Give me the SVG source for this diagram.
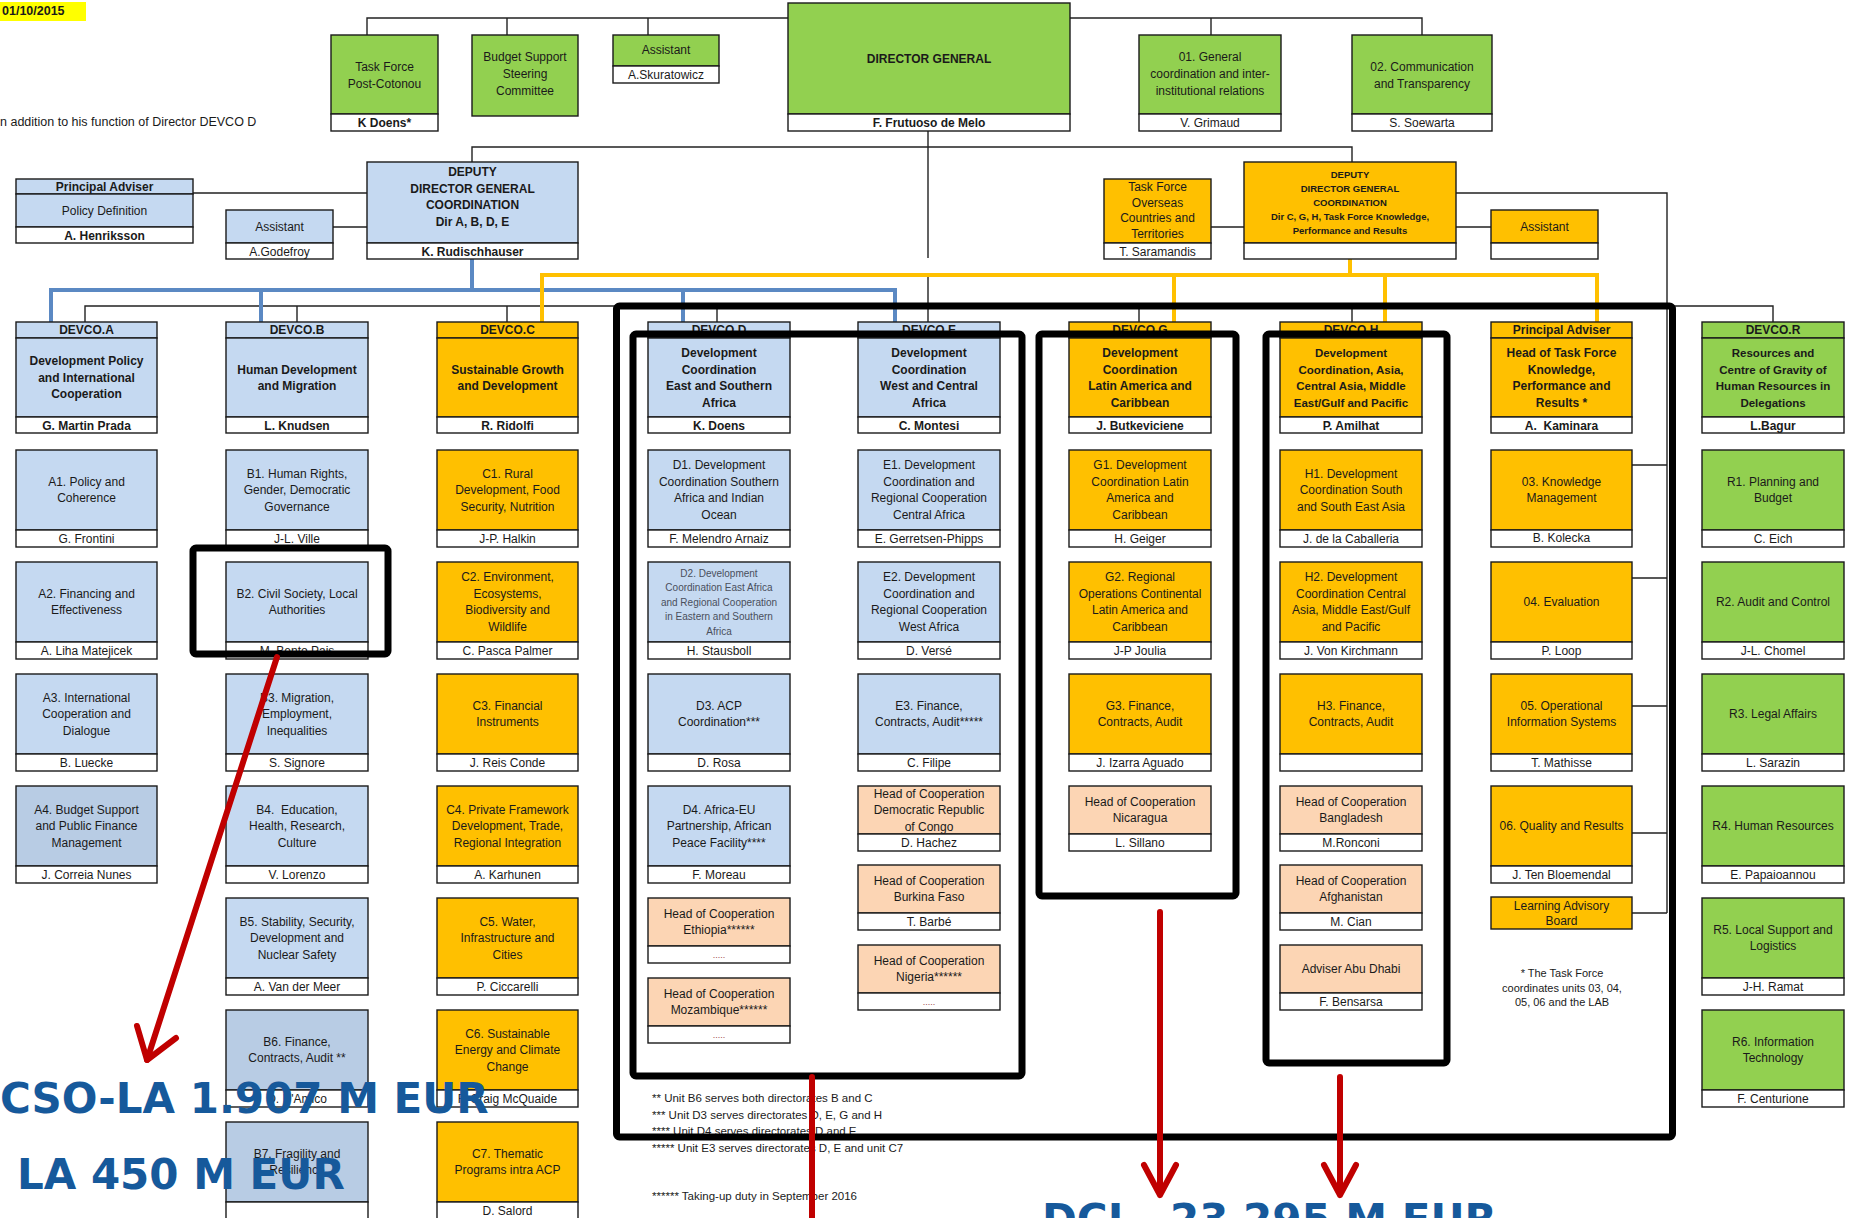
<svg xmlns="http://www.w3.org/2000/svg" width="1855" height="1218" viewBox="0 0 1855 1218">
<style>
.t{font-family:"Liberation Sans",Arial,sans-serif;font-size:12px;text-anchor:middle;fill:#1a1a1a}
.b{font-weight:bold}
.s{font-size:10px;fill:#4a4f5c}
.k{font-size:9.5px;font-weight:bold}
.d{font-size:9px;fill:#a04848}
.fn{font-family:"Liberation Sans",Arial,sans-serif;font-size:11.5px;fill:#1a1a1a}
.bx{stroke:#1a1a1a;stroke-width:1.4}
.bl1{fill:#c5d9f1}.bl2{fill:#b8cce4}.gr{fill:#92d050}.or{fill:#ffc000}.lo{fill:#fcd5b4}.wh{fill:#fff}
.ln{stroke:#222;stroke-width:1.4;fill:none}
.cb{stroke:#5b89c3;stroke-width:4;fill:none}
.cy{stroke:#ffc000;stroke-width:4;fill:none}
.fr{stroke:#000;stroke-width:7;fill:none;stroke-linejoin:round}
.rd{stroke:#c00000;stroke-width:6;fill:none;stroke-linecap:round;stroke-linejoin:round}
.big{font-family:"DejaVu Sans",Verdana,sans-serif;font-weight:bold;font-size:42px;fill:#16599b}
</style>
<rect width="1855" height="1218" fill="#fff"/>
<g id="header">
<rect x="0" y="2" width="86" height="19" fill="#ffff00"/>
<text class="fn b" x="2" y="15" style="font-size:12.5px">01/10/2015</text>
<text class="fn" x="0" y="126" style="font-size:12.5px">n addition to his function of Director DEVCO D</text>
</g>
<g id="connectors">
<path class="ln" d="M367,35V18H1422V35M507,18V35M648,18V35M1211,18V35"/>
<path class="ln" d="M928,131V258M928,277V306"/>
<path class="ln" d="M472,162V147H1352V162"/>
<path class="ln" d="M193,193H367M333,227H367M1211,227H1244M1456,227H1491"/>
<path class="ln" d="M1456,193H1667V913M1667,306H1773V322"/>
<path class="ln" d="M1632,465H1667M1632,578H1667M1632,706H1667M1632,833H1667M1632,913H1667"/>
<path class="ln" d="M85,322V306H1352V322M297,306V322M507,306V322M717,306V322M928,306V322M1139,306V322"/>
<path class="cb" d="M472,259V290M51,322V290H895V322M261,290V322M683,290V322"/>
<path class="cy" d="M1350,259V275M542,322V275H1597V322M1174,275V322M1385,275V322"/>
</g>
<g id="tf-post-cotonou"><rect class="bx gr" x="331" y="35" width="107" height="79"/><rect class="bx wh" x="331" y="114" width="107" height="17"/><text class="t" x="384.5" y="71"><tspan x="384.5">Task Force</tspan><tspan x="384.5" dy="16.5">Post-Cotonou</tspan></text><text class="t b" x="384.5" y="126.5">K Doens*</text></g>
<g id="budget-support"><rect class="bx gr" x="472" y="35" width="106" height="81"/><text class="t" x="525" y="61"><tspan x="525">Budget Support</tspan><tspan x="525" dy="17">Steering</tspan><tspan x="525" dy="17">Committee</tspan></text></g>
<g id="assistant-dg"><rect class="bx gr" x="613" y="35" width="106" height="31"/><rect class="bx wh" x="613" y="66" width="106" height="17"/><text class="t" x="666" y="54">Assistant</text><text class="t" x="666" y="78.5">A.Skuratowicz</text></g>
<g id="director-general"><rect class="bx gr" x="788" y="3" width="282" height="111"/><rect class="bx wh" x="788" y="114" width="282" height="17"/><text class="t b" x="929" y="63">DIRECTOR GENERAL</text><text class="t b" x="929" y="126.5">F. Frutuoso de Melo</text></g>
<g id="u01"><rect class="bx gr" x="1139" y="35" width="142" height="79"/><rect class="bx wh" x="1139" y="114" width="142" height="17"/><text class="t" x="1210" y="61"><tspan x="1210">01. General</tspan><tspan x="1210" dy="17">coordination and inter-</tspan><tspan x="1210" dy="17">institutional relations</tspan></text><text class="t" x="1210" y="126.5">V. Grimaud</text></g>
<g id="u02"><rect class="bx gr" x="1352" y="35" width="140" height="79"/><rect class="bx wh" x="1352" y="114" width="140" height="17"/><text class="t" x="1422" y="71"><tspan x="1422">02. Communication</tspan><tspan x="1422" dy="16.5">and Transparency</tspan></text><text class="t" x="1422" y="126.5">S. Soewarta</text></g>
<g id="pa-policy"><rect class="bx bl1" x="16" y="179" width="177" height="15"/><rect class="bx bl1" x="16" y="194" width="177" height="33"/><rect class="bx wh" x="16" y="227" width="177" height="16"/><text class="t b" x="104.5" y="190.5">Principal Adviser</text><text class="t" x="104.5" y="214.5">Policy Definition</text><text class="t b" x="104.5" y="239.5">A. Henriksson</text></g>
<g id="assistant-ddg1"><rect class="bx bl1" x="226" y="210" width="107" height="33"/><rect class="bx wh" x="226" y="243" width="107" height="16"/><text class="t" x="279.5" y="230.5">Assistant</text><text class="t" x="279.5" y="255.5">A.Godefroy</text></g>
<g id="ddg1"><rect class="bx bl1" x="367" y="162" width="211" height="81"/><rect class="bx wh" x="367" y="243" width="211" height="16"/><text class="t b" x="472.5" y="176"><tspan x="472.5">DEPUTY</tspan><tspan x="472.5" dy="16.5">DIRECTOR GENERAL</tspan><tspan x="472.5" dy="16.5">COORDINATION</tspan><tspan x="472.5" dy="16.5">Dir A, B, D, E</tspan></text><text class="t b" x="472.5" y="255.5">K. Rudischhauser</text></g>
<g id="tf-oct"><rect class="bx or" x="1104" y="179" width="107" height="64"/><rect class="bx wh" x="1104" y="243" width="107" height="16"/><text class="t" x="1157.5" y="191"><tspan x="1157.5">Task Force</tspan><tspan x="1157.5" dy="15.5">Overseas</tspan><tspan x="1157.5" dy="15.5">Countries and</tspan><tspan x="1157.5" dy="15.5">Territories</tspan></text><text class="t" x="1157.5" y="255.5">T. Saramandis</text></g>
<g id="ddg2"><rect class="bx or" x="1244" y="162" width="212" height="81"/><rect class="bx wh" x="1244" y="243" width="212" height="16"/><text class="t k" x="1350" y="178"><tspan x="1350">DEPUTY</tspan><tspan x="1350" dy="14">DIRECTOR GENERAL</tspan><tspan x="1350" dy="13.5">COORDINATION</tspan><tspan x="1350" dy="14.5">Dir C, G, H, Task Force Knowledge,</tspan><tspan x="1350" dy="13.5">Performance and Results</tspan></text></g>
<g id="assistant-ddg2"><rect class="bx or" x="1491" y="210" width="107" height="33"/><rect class="bx wh" x="1491" y="243" width="107" height="16"/><text class="t" x="1544.5" y="230.5">Assistant</text></g>

<g id="devco-a"><rect class="bx bl1" x="16" y="322" width="141" height="16"/><rect class="bx bl1" x="16" y="338" width="141" height="79"/><rect class="bx wh" x="16" y="417" width="141" height="16"/><text class="t b" x="86.5" y="334">DEVCO.A</text><text class="t b" x="86.5" y="365"><tspan x="86.5">Development Policy</tspan><tspan x="86.5" dy="16.5">and International</tspan><tspan x="86.5" dy="16.5">Cooperation</tspan></text><text class="t b" x="86.5" y="429.5">G. Martin Prada</text></g>
<g id="a1"><rect class="bx bl1" x="16" y="450" width="141" height="80"/><rect class="bx wh" x="16" y="530" width="141" height="17"/><text class="t" x="86.5" y="485.75"><tspan x="86.5">A1. Policy and</tspan><tspan x="86.5" dy="16.5">Coherence</tspan></text><text class="t" x="86.5" y="542.5">G. Frontini</text></g>
<g id="a2"><rect class="bx bl1" x="16" y="562" width="141" height="80"/><rect class="bx wh" x="16" y="642" width="141" height="17"/><text class="t" x="86.5" y="597.75"><tspan x="86.5">A2. Financing and</tspan><tspan x="86.5" dy="16.5">Effectiveness</tspan></text><text class="t" x="86.5" y="654.5">A. Liha Matejicek</text></g>
<g id="a3"><rect class="bx bl1" x="16" y="674" width="141" height="80"/><rect class="bx wh" x="16" y="754" width="141" height="17"/><text class="t" x="86.5" y="701.5"><tspan x="86.5">A3. International</tspan><tspan x="86.5" dy="16.5">Cooperation and</tspan><tspan x="86.5" dy="16.5">Dialogue</tspan></text><text class="t" x="86.5" y="766.5">B. Luecke</text></g>
<g id="a4"><rect class="bx bl2" x="16" y="786" width="141" height="80"/><rect class="bx wh" x="16" y="866" width="141" height="17"/><text class="t" x="86.5" y="813.5"><tspan x="86.5">A4. Budget Support</tspan><tspan x="86.5" dy="16.5">and Public Finance</tspan><tspan x="86.5" dy="16.5">Management</tspan></text><text class="t" x="86.5" y="878.5">J. Correia Nunes</text></g>

<g id="devco-b"><rect class="bx bl1" x="226" y="322" width="142" height="16"/><rect class="bx bl1" x="226" y="338" width="142" height="79"/><rect class="bx wh" x="226" y="417" width="142" height="16"/><text class="t b" x="297" y="334">DEVCO.B</text><text class="t b" x="297" y="373.5"><tspan x="297">Human Development</tspan><tspan x="297" dy="16.5">and Migration</tspan></text><text class="t b" x="297" y="429.5">L. Knudsen</text></g>
<g id="b1"><rect class="bx bl1" x="226" y="450" width="142" height="80"/><rect class="bx wh" x="226" y="530" width="142" height="17"/><text class="t" x="297" y="477.5"><tspan x="297">B1. Human Rights,</tspan><tspan x="297" dy="16.5">Gender, Democratic</tspan><tspan x="297" dy="16.5">Governance</tspan></text><text class="t" x="297" y="542.5">J-L. Ville</text></g>
<g id="b2"><rect class="bx bl1" x="226" y="562" width="142" height="80"/><rect class="bx wh" x="226" y="642" width="142" height="17"/><text class="t" x="297" y="597.75"><tspan x="297">B2. Civil Society, Local</tspan><tspan x="297" dy="16.5">Authorities</tspan></text><text class="t" x="297" y="654.5">M. Bento Pais</text></g>
<g id="b3"><rect class="bx bl1" x="226" y="674" width="142" height="80"/><rect class="bx wh" x="226" y="754" width="142" height="17"/><text class="t" x="297" y="701.5"><tspan x="297">B3. Migration,</tspan><tspan x="297" dy="16.5">Employment,</tspan><tspan x="297" dy="16.5">Inequalities</tspan></text><text class="t" x="297" y="766.5">S. Signore</text></g>
<g id="b4"><rect class="bx bl1" x="226" y="786" width="142" height="80"/><rect class="bx wh" x="226" y="866" width="142" height="17"/><text class="t" x="297" y="813.5"><tspan x="297">B4.&#160; Education,</tspan><tspan x="297" dy="16.5">Health, Research,</tspan><tspan x="297" dy="16.5">Culture</tspan></text><text class="t" x="297" y="878.5">V. Lorenzo</text></g>
<g id="b5"><rect class="bx bl1" x="226" y="898" width="142" height="80"/><rect class="bx wh" x="226" y="978" width="142" height="17"/><text class="t" x="297" y="925.5"><tspan x="297">B5. Stability, Security,</tspan><tspan x="297" dy="16.5">Development and</tspan><tspan x="297" dy="16.5">Nuclear Safety</tspan></text><text class="t" x="297" y="990.5">A. Van der Meer</text></g>
<g id="b6"><rect class="bx bl2" x="226" y="1010" width="142" height="80"/><rect class="bx wh" x="226" y="1090" width="142" height="17"/><text class="t" x="297" y="1045.75"><tspan x="297">B6. Finance,</tspan><tspan x="297" dy="16.5">Contracts, Audit **</tspan></text><text class="t" x="297" y="1102.5">D. D'Amico</text></g>
<g id="b7"><rect class="bx bl2" x="226" y="1122" width="142" height="80"/><rect class="bx wh" x="226" y="1202" width="142" height="17"/><text class="t" x="297" y="1157.75"><tspan x="297">B7. Fragility and</tspan><tspan x="297" dy="16.5">Resilience</tspan></text></g>

<g id="devco-c"><rect class="bx or" x="437" y="322" width="141" height="16"/><rect class="bx or" x="437" y="338" width="141" height="79"/><rect class="bx wh" x="437" y="417" width="141" height="16"/><text class="t b" x="507.5" y="334">DEVCO.C</text><text class="t b" x="507.5" y="373.5"><tspan x="507.5">Sustainable Growth</tspan><tspan x="507.5" dy="16.5">and Development</tspan></text><text class="t b" x="507.5" y="429.5">R. Ridolfi</text></g>
<g id="c1"><rect class="bx or" x="437" y="450" width="141" height="80"/><rect class="bx wh" x="437" y="530" width="141" height="17"/><text class="t" x="507.5" y="477.5"><tspan x="507.5">C1. Rural</tspan><tspan x="507.5" dy="16.5">Development, Food</tspan><tspan x="507.5" dy="16.5">Security, Nutrition</tspan></text><text class="t" x="507.5" y="542.5">J-P. Halkin</text></g>
<g id="c2"><rect class="bx or" x="437" y="562" width="141" height="80"/><rect class="bx wh" x="437" y="642" width="141" height="17"/><text class="t" x="507.5" y="581.25"><tspan x="507.5">C2. Environment,</tspan><tspan x="507.5" dy="16.5">Ecosystems,</tspan><tspan x="507.5" dy="16.5">Biodiversity and</tspan><tspan x="507.5" dy="16.5">Wildlife</tspan></text><text class="t" x="507.5" y="654.5">C. Pasca Palmer</text></g>
<g id="c3"><rect class="bx or" x="437" y="674" width="141" height="80"/><rect class="bx wh" x="437" y="754" width="141" height="17"/><text class="t" x="507.5" y="709.75"><tspan x="507.5">C3. Financial</tspan><tspan x="507.5" dy="16.5">Instruments</tspan></text><text class="t" x="507.5" y="766.5">J. Reis Conde</text></g>
<g id="c4"><rect class="bx or" x="437" y="786" width="141" height="80"/><rect class="bx wh" x="437" y="866" width="141" height="17"/><text class="t" x="507.5" y="813.5"><tspan x="507.5">C4. Private Framework</tspan><tspan x="507.5" dy="16.5">Development, Trade,</tspan><tspan x="507.5" dy="16.5">Regional Integration</tspan></text><text class="t" x="507.5" y="878.5">A. Karhunen</text></g>
<g id="c5"><rect class="bx or" x="437" y="898" width="141" height="80"/><rect class="bx wh" x="437" y="978" width="141" height="17"/><text class="t" x="507.5" y="925.5"><tspan x="507.5">C5. Water,</tspan><tspan x="507.5" dy="16.5">Infrastructure and</tspan><tspan x="507.5" dy="16.5">Cities</tspan></text><text class="t" x="507.5" y="990.5">P. Ciccarelli</text></g>
<g id="c6"><rect class="bx or" x="437" y="1010" width="141" height="80"/><rect class="bx wh" x="437" y="1090" width="141" height="17"/><text class="t" x="507.5" y="1037.5"><tspan x="507.5">C6. Sustainable</tspan><tspan x="507.5" dy="16.5">Energy and Climate</tspan><tspan x="507.5" dy="16.5">Change</tspan></text><text class="t" x="507.5" y="1102.5">F. Craig McQuaide</text></g>
<g id="c7"><rect class="bx or" x="437" y="1122" width="141" height="80"/><rect class="bx wh" x="437" y="1202" width="141" height="17"/><text class="t" x="507.5" y="1157.75"><tspan x="507.5">C7. Thematic</tspan><tspan x="507.5" dy="16.5">Programs intra ACP</tspan></text><text class="t" x="507.5" y="1214.5">D. Salord</text></g>

<g id="devco-d"><rect class="bx bl1" x="648" y="322" width="142" height="16"/><rect class="bx bl1" x="648" y="338" width="142" height="79"/><rect class="bx wh" x="648" y="417" width="142" height="16"/><text class="t b" x="719" y="334">DEVCO.D</text><text class="t b" x="719" y="357"><tspan x="719">Development</tspan><tspan x="719" dy="16.5">Coordination</tspan><tspan x="719" dy="16.5">East and Southern</tspan><tspan x="719" dy="16.5">Africa</tspan></text><text class="t b" x="719" y="429.5">K. Doens</text></g>
<g id="d1"><rect class="bx bl1" x="648" y="450" width="142" height="80"/><rect class="bx wh" x="648" y="530" width="142" height="17"/><text class="t" x="719" y="469.25"><tspan x="719">D1. Development</tspan><tspan x="719" dy="16.5">Coordination Southern</tspan><tspan x="719" dy="16.5">Africa and Indian</tspan><tspan x="719" dy="16.5">Ocean</tspan></text><text class="t" x="719" y="542.5">F. Melendro Arnaiz</text></g>
<g id="d2"><rect class="bx bl1" x="648" y="562" width="142" height="80"/><rect class="bx wh" x="648" y="642" width="142" height="17"/><text class="t s" x="719" y="576.5"><tspan x="719">D2. Development</tspan><tspan x="719" dy="14.5">Coordination East Africa</tspan><tspan x="719" dy="14.5">and Regional Cooperation</tspan><tspan x="719" dy="14.5">in Eastern and Southern</tspan><tspan x="719" dy="14.5">Africa</tspan></text><text class="t" x="719" y="654.5">H. Stausboll</text></g>
<g id="d3"><rect class="bx bl1" x="648" y="674" width="142" height="80"/><rect class="bx wh" x="648" y="754" width="142" height="17"/><text class="t" x="719" y="709.75"><tspan x="719">D3. ACP</tspan><tspan x="719" dy="16.5">Coordination***</tspan></text><text class="t" x="719" y="766.5">D. Rosa</text></g>
<g id="d4"><rect class="bx bl1" x="648" y="786" width="142" height="80"/><rect class="bx wh" x="648" y="866" width="142" height="17"/><text class="t" x="719" y="813.5"><tspan x="719">D4. Africa-EU</tspan><tspan x="719" dy="16.5">Partnership, African</tspan><tspan x="719" dy="16.5">Peace Facility****</tspan></text><text class="t" x="719" y="878.5">F. Moreau</text></g>
<g id="hoc-ethiopia"><rect class="bx lo" x="648" y="898" width="142" height="48"/><rect class="bx wh" x="648" y="946" width="142" height="17"/><text class="t" x="719" y="917.75"><tspan x="719">Head of Cooperation</tspan><tspan x="719" dy="16.5">Ethiopia******</tspan></text><text class="t d" x="719" y="958">.....</text></g>
<g id="hoc-mozambique"><rect class="bx lo" x="648" y="978" width="142" height="48"/><rect class="bx wh" x="648" y="1026" width="142" height="17"/><text class="t" x="719" y="997.75"><tspan x="719">Head of Cooperation</tspan><tspan x="719" dy="16.5">Mozambique******</tspan></text><text class="t d" x="719" y="1038">.....</text></g>

<g id="devco-e"><rect class="bx bl1" x="858" y="322" width="142" height="16"/><rect class="bx bl1" x="858" y="338" width="142" height="79"/><rect class="bx wh" x="858" y="417" width="142" height="16"/><text class="t b" x="929" y="334">DEVCO.E</text><text class="t b" x="929" y="357"><tspan x="929">Development</tspan><tspan x="929" dy="16.5">Coordination</tspan><tspan x="929" dy="16.5">West and Central</tspan><tspan x="929" dy="16.5">Africa</tspan></text><text class="t b" x="929" y="429.5">C. Montesi</text></g>
<g id="e1"><rect class="bx bl1" x="858" y="450" width="142" height="80"/><rect class="bx wh" x="858" y="530" width="142" height="17"/><text class="t" x="929" y="469.25"><tspan x="929">E1. Development</tspan><tspan x="929" dy="16.5">Coordination and</tspan><tspan x="929" dy="16.5">Regional Cooperation</tspan><tspan x="929" dy="16.5">Central Africa</tspan></text><text class="t" x="929" y="542.5">E. Gerretsen-Phipps</text></g>
<g id="e2"><rect class="bx bl1" x="858" y="562" width="142" height="80"/><rect class="bx wh" x="858" y="642" width="142" height="17"/><text class="t" x="929" y="581.25"><tspan x="929">E2. Development</tspan><tspan x="929" dy="16.5">Coordination and</tspan><tspan x="929" dy="16.5">Regional Cooperation</tspan><tspan x="929" dy="16.5">West Africa</tspan></text><text class="t" x="929" y="654.5">D. Versé</text></g>
<g id="e3"><rect class="bx bl1" x="858" y="674" width="142" height="80"/><rect class="bx wh" x="858" y="754" width="142" height="17"/><text class="t" x="929" y="709.75"><tspan x="929">E3. Finance,</tspan><tspan x="929" dy="16.5">Contracts, Audit*****</tspan></text><text class="t" x="929" y="766.5">C. Filipe</text></g>
<g id="hoc-drc"><rect class="bx lo" x="858" y="786" width="142" height="48"/><rect class="bx wh" x="858" y="834" width="142" height="17"/><text class="t" x="929" y="797.5"><tspan x="929">Head of Cooperation</tspan><tspan x="929" dy="16.5">Democratic Republic</tspan><tspan x="929" dy="16.5">of Congo</tspan></text><text class="t" x="929" y="846.5">D. Hachez</text></g>
<g id="hoc-burkina"><rect class="bx lo" x="858" y="865" width="142" height="48"/><rect class="bx wh" x="858" y="913" width="142" height="17"/><text class="t" x="929" y="884.75"><tspan x="929">Head of Cooperation</tspan><tspan x="929" dy="16.5">Burkina Faso</tspan></text><text class="t" x="929" y="925.5">T. Barbé</text></g>
<g id="hoc-nigeria"><rect class="bx lo" x="858" y="945" width="142" height="48"/><rect class="bx wh" x="858" y="993" width="142" height="17"/><text class="t" x="929" y="964.75"><tspan x="929">Head of Cooperation</tspan><tspan x="929" dy="16.5">Nigeria******</tspan></text><text class="t d" x="929" y="1005">.....</text></g>

<g id="devco-g"><rect class="bx or" x="1069" y="322" width="142" height="16"/><rect class="bx or" x="1069" y="338" width="142" height="79"/><rect class="bx wh" x="1069" y="417" width="142" height="16"/><text class="t b" x="1140" y="334">DEVCO.G</text><text class="t b" x="1140" y="357"><tspan x="1140">Development</tspan><tspan x="1140" dy="16.5">Coordination</tspan><tspan x="1140" dy="16.5">Latin America and</tspan><tspan x="1140" dy="16.5">Caribbean</tspan></text><text class="t b" x="1140" y="429.5">J. Butkeviciene</text></g>
<g id="g1"><rect class="bx or" x="1069" y="450" width="142" height="80"/><rect class="bx wh" x="1069" y="530" width="142" height="17"/><text class="t" x="1140" y="469.25"><tspan x="1140">G1. Development</tspan><tspan x="1140" dy="16.5">Coordination Latin</tspan><tspan x="1140" dy="16.5">America and</tspan><tspan x="1140" dy="16.5">Caribbean</tspan></text><text class="t" x="1140" y="542.5">H. Geiger</text></g>
<g id="g2"><rect class="bx or" x="1069" y="562" width="142" height="80"/><rect class="bx wh" x="1069" y="642" width="142" height="17"/><text class="t" x="1140" y="581.25"><tspan x="1140">G2. Regional</tspan><tspan x="1140" dy="16.5">Operations Continental</tspan><tspan x="1140" dy="16.5">Latin America and</tspan><tspan x="1140" dy="16.5">Caribbean</tspan></text><text class="t" x="1140" y="654.5">J-P Joulia</text></g>
<g id="g3"><rect class="bx or" x="1069" y="674" width="142" height="80"/><rect class="bx wh" x="1069" y="754" width="142" height="17"/><text class="t" x="1140" y="709.75"><tspan x="1140">G3. Finance,</tspan><tspan x="1140" dy="16.5">Contracts, Audit</tspan></text><text class="t" x="1140" y="766.5">J. Izarra Aguado</text></g>
<g id="hoc-nicaragua"><rect class="bx lo" x="1069" y="786" width="142" height="48"/><rect class="bx wh" x="1069" y="834" width="142" height="17"/><text class="t" x="1140" y="805.75"><tspan x="1140">Head of Cooperation</tspan><tspan x="1140" dy="16.5">Nicaragua</tspan></text><text class="t" x="1140" y="846.5">L. Sillano</text></g>

<g id="devco-h"><rect class="bx or" x="1280" y="322" width="142" height="16"/><rect class="bx or" x="1280" y="338" width="142" height="79"/><rect class="bx wh" x="1280" y="417" width="142" height="16"/><text class="t b" x="1351" y="334">DEVCO.H</text><text class="t b" x="1351" y="357" style="font-size:11.5px"><tspan x="1351">Development</tspan><tspan x="1351" dy="16.5">Coordination, Asia,</tspan><tspan x="1351" dy="16.5">Central Asia, Middle</tspan><tspan x="1351" dy="16.5">East/Gulf and Pacific</tspan></text><text class="t b" x="1351" y="429.5">P. Amilhat</text></g>
<g id="h1"><rect class="bx or" x="1280" y="450" width="142" height="80"/><rect class="bx wh" x="1280" y="530" width="142" height="17"/><text class="t" x="1351" y="477.5"><tspan x="1351">H1. Development</tspan><tspan x="1351" dy="16.5">Coordination South</tspan><tspan x="1351" dy="16.5">and South East Asia</tspan></text><text class="t" x="1351" y="542.5">J. de la Caballeria</text></g>
<g id="h2"><rect class="bx or" x="1280" y="562" width="142" height="80"/><rect class="bx wh" x="1280" y="642" width="142" height="17"/><text class="t" x="1351" y="581.25"><tspan x="1351">H2. Development</tspan><tspan x="1351" dy="16.5">Coordination Central</tspan><tspan x="1351" dy="16.5">Asia, Middle East/Gulf</tspan><tspan x="1351" dy="16.5">and Pacific</tspan></text><text class="t" x="1351" y="654.5">J. Von Kirchmann</text></g>
<g id="h3"><rect class="bx or" x="1280" y="674" width="142" height="80"/><rect class="bx wh" x="1280" y="754" width="142" height="17"/><text class="t" x="1351" y="709.75"><tspan x="1351">H3. Finance,</tspan><tspan x="1351" dy="16.5">Contracts, Audit</tspan></text></g>
<g id="hoc-bangladesh"><rect class="bx lo" x="1280" y="786" width="142" height="48"/><rect class="bx wh" x="1280" y="834" width="142" height="17"/><text class="t" x="1351" y="805.75"><tspan x="1351">Head of Cooperation</tspan><tspan x="1351" dy="16.5">Bangladesh</tspan></text><text class="t" x="1351" y="846.5">M.Ronconi</text></g>
<g id="hoc-afghanistan"><rect class="bx lo" x="1280" y="865" width="142" height="48"/><rect class="bx wh" x="1280" y="913" width="142" height="17"/><text class="t" x="1351" y="884.75"><tspan x="1351">Head of Cooperation</tspan><tspan x="1351" dy="16.5">Afghanistan</tspan></text><text class="t" x="1351" y="925.5">M. Cian</text></g>
<g id="adviser-abu-dhabi"><rect class="bx lo" x="1280" y="945" width="142" height="48"/><rect class="bx wh" x="1280" y="993" width="142" height="17"/><text class="t" x="1351" y="973">Adviser Abu Dhabi</text><text class="t" x="1351" y="1005.5">F. Bensarsa</text></g>

<g id="pa-tf"><rect class="bx or" x="1491" y="322" width="141" height="16"/><rect class="bx or" x="1491" y="338" width="141" height="79"/><rect class="bx wh" x="1491" y="417" width="141" height="16"/><text class="t b" x="1561.5" y="334">Principal Adviser</text><text class="t b" x="1561.5" y="357"><tspan x="1561.5">Head of Task Force</tspan><tspan x="1561.5" dy="16.5">Knowledge,</tspan><tspan x="1561.5" dy="16.5">Performance and</tspan><tspan x="1561.5" dy="16.5">Results *</tspan></text><text class="t b" x="1561.5" y="429.5">A.&#160; Kaminara</text></g>
<g id="u03"><rect class="bx or" x="1491" y="450" width="141" height="80"/><rect class="bx wh" x="1491" y="530" width="141" height="17"/><text class="t" x="1561.5" y="485.75"><tspan x="1561.5">03. Knowledge</tspan><tspan x="1561.5" dy="16.5">Management</tspan></text><text class="t" x="1561.5" y="541.5">B. Kolecka</text></g>
<g id="u04"><rect class="bx or" x="1491" y="562" width="141" height="80"/><rect class="bx wh" x="1491" y="642" width="141" height="17"/><text class="t" x="1561.5" y="606">04. Evaluation</text><text class="t" x="1561.5" y="654.5">P. Loop</text></g>
<g id="u05"><rect class="bx or" x="1491" y="674" width="141" height="80"/><rect class="bx wh" x="1491" y="754" width="141" height="17"/><text class="t" x="1561.5" y="709.75"><tspan x="1561.5">05. Operational</tspan><tspan x="1561.5" dy="16.5">Information Systems</tspan></text><text class="t" x="1561.5" y="766.5">T. Mathisse</text></g>
<g id="u06"><rect class="bx or" x="1491" y="786" width="141" height="80"/><rect class="bx wh" x="1491" y="866" width="141" height="17"/><text class="t" x="1561.5" y="830">06. Quality and Results</text><text class="t" x="1561.5" y="878.5">J. Ten Bloemendal</text></g>
<g id="lab"><rect class="bx or" x="1491" y="897" width="141" height="32"/><text class="t" x="1561.5" y="910"><tspan x="1561.5">Learning Advisory</tspan><tspan x="1561.5" dy="14.5">Board</tspan></text></g>
<g id="tf-note"><text class="t" x="1562" y="977" style="font-size:11px"><tspan x="1562">* The Task Force</tspan><tspan x="1562" dy="14.5">coordinates units 03, 04,</tspan><tspan x="1562" dy="14.5">05, 06 and the LAB</tspan></text></g>

<g id="devco-r"><rect class="bx gr" x="1702" y="322" width="142" height="16"/><rect class="bx gr" x="1702" y="338" width="142" height="79"/><rect class="bx wh" x="1702" y="417" width="142" height="16"/><text class="t b" x="1773" y="334">DEVCO.R</text><text class="t b" x="1773" y="357" style="font-size:11.5px"><tspan x="1773">Resources and</tspan><tspan x="1773" dy="16.5">Centre of Gravity of</tspan><tspan x="1773" dy="16.5">Human Resources in</tspan><tspan x="1773" dy="16.5">Delegations</tspan></text><text class="t b" x="1773" y="429.5">L.Bagur</text></g>
<g id="r1"><rect class="bx gr" x="1702" y="450" width="142" height="80"/><rect class="bx wh" x="1702" y="530" width="142" height="17"/><text class="t" x="1773" y="485.75"><tspan x="1773">R1. Planning and</tspan><tspan x="1773" dy="16.5">Budget</tspan></text><text class="t" x="1773" y="542.5">C. Eich</text></g>
<g id="r2"><rect class="bx gr" x="1702" y="562" width="142" height="80"/><rect class="bx wh" x="1702" y="642" width="142" height="17"/><text class="t" x="1773" y="606">R2. Audit and Control</text><text class="t" x="1773" y="654.5">J-L. Chomel</text></g>
<g id="r3"><rect class="bx gr" x="1702" y="674" width="142" height="80"/><rect class="bx wh" x="1702" y="754" width="142" height="17"/><text class="t" x="1773" y="718">R3. Legal Affairs</text><text class="t" x="1773" y="766.5">L. Sarazin</text></g>
<g id="r4"><rect class="bx gr" x="1702" y="786" width="142" height="80"/><rect class="bx wh" x="1702" y="866" width="142" height="17"/><text class="t" x="1773" y="830">R4. Human Resources</text><text class="t" x="1773" y="878.5">E. Papaioannou</text></g>
<g id="r5"><rect class="bx gr" x="1702" y="898" width="142" height="80"/><rect class="bx wh" x="1702" y="978" width="142" height="17"/><text class="t" x="1773" y="933.75"><tspan x="1773">R5. Local Support and</tspan><tspan x="1773" dy="16.5">Logistics</tspan></text><text class="t" x="1773" y="990.5">J-H. Ramat</text></g>
<g id="r6"><rect class="bx gr" x="1702" y="1010" width="142" height="80"/><rect class="bx wh" x="1702" y="1090" width="142" height="17"/><text class="t" x="1773" y="1045.75"><tspan x="1773">R6. Information</tspan><tspan x="1773" dy="16.5">Technology</tspan></text><text class="t" x="1773" y="1102.5">F. Centurione</text></g>

<g id="footnotes">
<text class="fn" x="652" y="1102">** Unit B6 serves both directorates B and C</text>
<text class="fn" x="652" y="1118.5">*** Unit D3 serves directorates D, E, G and H</text>
<text class="fn" x="652" y="1135">**** Unit D4 serves directorates D and E</text>
<text class="fn" x="652" y="1152">***** Unit E3 serves directorates D, E and unit C7</text>
<text class="fn" x="652" y="1200">****** Taking-up duty in September 2016</text>
</g>
<g id="frames">
<rect class="fr" x="616.5" y="306" width="1056" height="831" rx="3"/>
<rect class="fr" x="633" y="334" width="389" height="742" rx="3"/>
<rect class="fr" x="1039" y="334" width="197" height="562" rx="3"/>
<rect class="fr" x="1266" y="334" width="181" height="729" rx="3"/>
<rect class="fr" x="193" y="548" width="195" height="106" rx="3"/>
</g>
<g id="red-arrows">
<path class="rd" d="M277,657L147,1060"/>
<path class="rd" d="M137,1026L147,1060L176,1038"/>
<path class="rd" d="M812,1077V1222"/>
<path class="rd" d="M1160,912V1195M1144,1165L1160,1195L1176,1165"/>
<path class="rd" d="M1340,1077V1195M1324,1165L1340,1195L1356,1165"/>
</g>
<g id="amounts">
<text class="big" x="0" y="1113">CSO-LA 1.907 M EUR</text>
<text class="big" x="17" y="1189">LA 450 M EUR</text>
<text class="big" x="1042" y="1234">DCI - 23 295 M EUR</text>
</g>
</svg>
